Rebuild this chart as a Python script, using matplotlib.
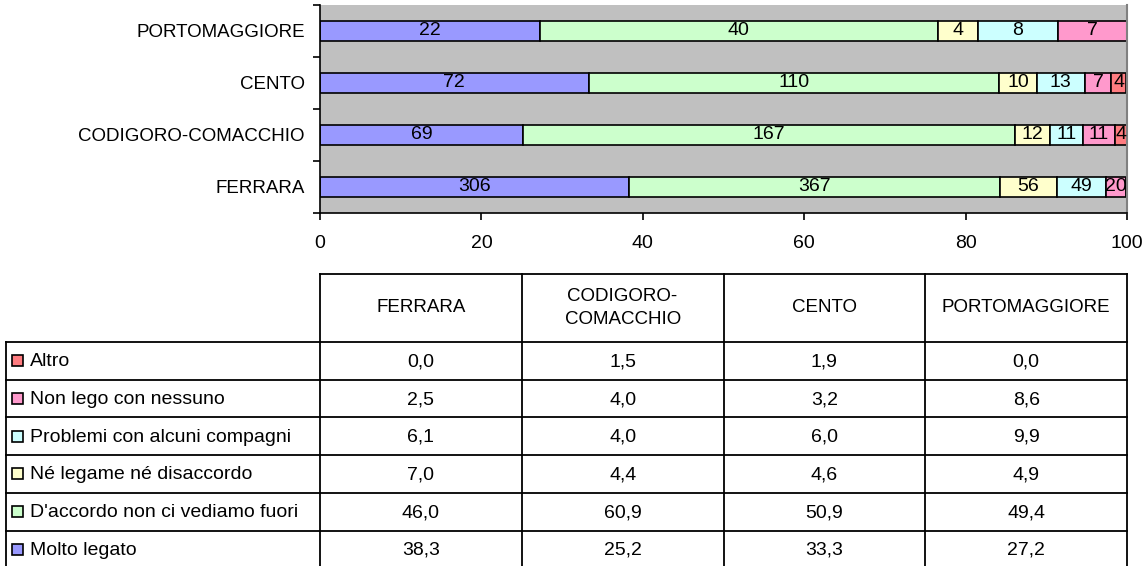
import numpy as np
import matplotlib.pyplot as plt

plt.rcParams['font.family'] = ['Liberation Sans', 'DejaVu Sans']

# categories (bottom to top in the bar chart)
aree = ['FERRARA', 'CODIGORO-COMACCHIO', 'CENTO', 'PORTOMAGGIORE']
aree_tab = ['FERRARA', 'CODIGORO-\nCOMACCHIO', 'CENTO', 'PORTOMAGGIORE']

risposte = ['Molto legato', "D'accordo non ci vediamo fuori", 'Né legame né disaccordo',
            'Problemi con alcuni compagni', 'Non lego con nessuno', 'Altro']
colori = ['#9999FF', '#CCFFCC', '#FFFFCC', '#CCFFFF', '#FF99CC', '#FF7C80']

# percentages (one list per answer, order of aree)
molto = [38.3, 25.2, 33.3, 27.2]
accordo = [46.0, 60.9, 50.9, 49.4]
ne_ne = [7.0, 4.4, 4.6, 4.9]
problemi = [6.1, 4.0, 6.0, 9.9]
non_lego = [2.5, 4.0, 3.2, 8.6]
altro = [0.0, 1.5, 1.9, 0.0]

# counts shown inside bars
n_molto = [306, 69, 72, 22]
n_accordo = [367, 167, 110, 40]
n_ne_ne = [56, 12, 10, 4]
n_problemi = [49, 11, 13, 8]
n_non_lego = [20, 11, 7, 7]
n_altro = [0, 4, 4, 0]

perc = [molto, accordo, ne_ne, problemi, non_lego, altro]
conteggi = [n_molto, n_accordo, n_ne_ne, n_problemi, n_non_lego, n_altro]

W, H = 1148, 566
fig = plt.figure(figsize=(W / 100, H / 100), dpi=100)

# plot area in pixels
x0, x1, y0, y1 = 320, 1127, 5, 212.7
ax = fig.add_axes([x0 / W, 1 - y1 / H, (x1 - x0) / W, (y1 - y0) / H])
ax.set_facecolor('#C0C0C0')

ypos = np.arange(len(aree))
left = np.zeros(len(aree))
for vals, nn, col, lab in zip(perc, conteggi, colori, risposte):
    bars = ax.barh(ypos, vals, left=left, height=0.39, color=col,
                   edgecolor='black', linewidth=1.2, label=lab)
    ax.bar_label(bars, labels=[str(n) if n > 0 else '' for n in nn],
                 label_type='center', fontsize=14)
    left += np.array(vals)

ax.set_xlim(0, 100)
ax.set_ylim(-0.5, 3.5)
ax.set_xticks(np.arange(0, 101, 20))
ax.set_yticks(np.arange(-0.5, 4, 1))
ax.set_yticklabels([])
ax.set_yticks(ypos, minor=True)
ax.set_yticklabels(aree, minor=True, fontsize=13.5)
ax.tick_params(axis='y', which='minor', length=0, pad=11)
ax.tick_params(axis='y', which='major', length=5, width=1.2, direction='out')
ax.tick_params(axis='x', length=5, width=1.2, direction='out', pad=11, labelsize=14)
ax.spines['top'].set_visible(False)
ax.spines['right'].set_color('#808080')
ax.spines['right'].set_linewidth(1.5)
ax.spines['left'].set_linewidth(1.2)
ax.spines['bottom'].set_linewidth(1.2)

# data table drawn below, in pixel coordinates
tab = fig.add_axes([0, 0, 1, 1])
tab.set_xlim(0, W)
tab.set_ylim(H, 0)
tab.axis('off')
tab.patch.set_alpha(0)

col_x = np.linspace(x0, x1, len(aree) + 1)
lab_x0 = 6
head_top, head_bot = 274, 342
row_h = 37.7
n_rows = len(risposte)
lw = 1.3

tab.plot([x0, x1], [head_top, head_top], color='black', lw=lw)
for cx in col_x:
    tab.plot([cx, cx], [head_top, head_bot + n_rows * row_h], color='black', lw=lw)
tab.plot([lab_x0, lab_x0], [head_bot, head_bot + n_rows * row_h], color='black', lw=lw)
for i in range(n_rows + 1):
    yy = head_bot + i * row_h
    tab.plot([lab_x0, x1], [yy, yy], color='black', lw=lw)

for j, nome in enumerate(aree_tab):
    tab.text((col_x[j] + col_x[j + 1]) / 2, (head_top + head_bot) / 2, nome,
             ha='center', va='center', fontsize=13.5, linespacing=1.45)

# rows top to bottom: reverse order of the series
for i, k in enumerate(range(n_rows - 1, -1, -1)):
    yc = head_bot + (i + 0.5) * row_h
    tab.add_patch(plt.Rectangle((11.5, yc - 5.5), 11, 11, facecolor=colori[k],
                                edgecolor='black', lw=1.2))
    tab.text(30, yc + 1, risposte[k], ha='left', va='center', fontsize=14)
    for j in range(len(aree)):
        tab.text((col_x[j] + col_x[j + 1]) / 2, yc + 1,
                 f'{perc[k][j]:.1f}'.replace('.', ','),
                 ha='center', va='center', fontsize=14)

fig.savefig('out.png', dpi=100)
